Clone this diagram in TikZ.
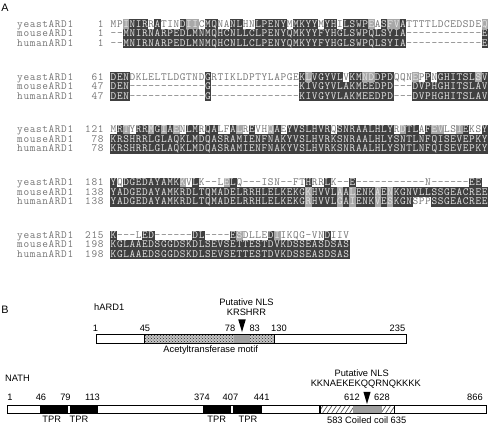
\documentclass[tikz,border=0pt]{standalone}
\usepackage{fontspec}
\newfontfamily\arial{Liberation Sans}
\usetikzlibrary{patterns}
\definecolor{darkc}{gray}{0.25}
\definecolor{lightc}{gray}{0.66}
\definecolor{plainc}{gray}{0.45}
\definecolor{intext}{gray}{0.9}
\newdimen\seqpitch \seqpitch=6.29pt
\newdimen\boxw \boxw=6.6pt
\newdimen\boxh \boxh=7.9pt
\newdimen\boxd \boxd=1.9pt
\newif\ifseqgr
\def\sqD#1{\hbox to\seqpitch{\rlap{\color{darkc}\vrule width\boxw height\boxh depth\boxd}\hss\textcolor{intext}{#1}\hss}}
\def\sqL#1{\hbox to\seqpitch{\rlap{\color{lightc}\vrule width\boxw height\boxh depth\boxd}\hss\textcolor{intext}{#1}\hss}}
\def\sqW#1{\hbox to\seqpitch{\hss\textcolor{plainc}{#1}\hss}}
\def\seqone#1{%
  \ifx#1+\global\seqgrtrue
  \else
    \ifseqgr \global\seqgrfalse\uppercase{\sqL{#1}}%
    \else
      \ifnum\lccode`#1=0 \sqW{#1}%
      \else
        \ifnum\lccode`#1=`#1 \uppercase{\sqW{#1}}%
        \else \sqD{#1}%
        \fi
      \fi
    \fi
  \fi}
\def\seqscan#1{\ifx#1\relax\else\seqone#1\expandafter\seqscan\fi}
\def\seqrow#1{\global\seqgrfalse\seqscan#1\relax}
\def\plainscan#1{\ifx#1\relax\else\sqW{#1}\expandafter\plainscan\fi}
\def\plainrow#1{\plainscan#1\relax}
\def\seqfont{\ttfamily\fontsize{11}{11}\selectfont}
\tikzset{
  seq/.style={anchor=base west, inner sep=0pt, font=\seqfont},
  nm/.style={anchor=base west, inner sep=0pt, font=\seqfont},
  num/.style={anchor=base east, inner sep=0pt, font=\seqfont},
  lbl/.style={anchor=base, inner sep=0pt, font=\arial\fontsize{9.3}{9.3}\selectfont},
  panel/.style={anchor=base west, inner sep=0pt, font=\arial\fontsize{10.8}{10.8}\selectfont},
  dom/.style={draw=black, line width=0.6pt},
  tip/.style={fill=black},
}
\begin{document}
\begin{tikzpicture}[x=1pt,y=-1pt]
\useasboundingbox (0,0) rectangle (488,424);
\node[panel] (pA) at (1.2,11) {A};
% ---------- block 1
\node[nm] (n1y) at (16.7,27.2) {\plainrow{yeastARD1}};
\node[nm] (n1m) at (16.7,36.7) {\plainrow{mouseARD1}};
\node[nm] (n1h) at (16.7,46.2) {\plainrow{humanARD1}};
\node[num] (c1y) at (104,27.2) {\plainrow{1}};
\node[num] (c1m) at (104,36.7) {\plainrow{1}};
\node[num] (c1h) at (104,46.2) {\plainrow{1}};
\node[seq] (s1y) at (110.2,27.2) {\seqrow{mp+INIRrAtinD+I+IcMQnaNLhnLPENYmMKYYmYHiLSWP+EaS+F+VAttttldcedsde+Q}};
\node[seq] (s1m) at (110.2,36.7) {\seqrow{--MNIRNARPEDLMNMQHCNLLCLPENYQMKYYFYHGLSWPQLSYIA------------E}};
\node[seq] (s1h) at (110.2,46.2) {\seqrow{--MNIRNARPEDLMNMQHCNLLCLPENYQMKYYFYHGLSWPQLSYIA------------E}};
% ---------- block 2
\node[nm] (n2y) at (16.7,80.0) {\plainrow{yeastARD1}};
\node[nm] (n2m) at (16.7,89.5) {\plainrow{mouseARD1}};
\node[nm] (n2h) at (16.7,99.0) {\plainrow{humanARD1}};
\node[num] (c2y) at (104,80.0) {\plainrow{61}};
\node[num] (c2m) at (104,89.5) {\plainrow{47}};
\node[num] (c2h) at (104,99.0) {\plainrow{47}};
\node[seq] (s2y) at (110.2,80.0) {\seqrow{DENdkleltldgtndGrtikldptylapgeK+LVGYVLvKM+N+DDPDqqn+EpPnGHITSL+SV}};
\node[seq] (s2m) at (110.2,89.5) {\seqrow{DEN------------G--------------KIVGYVLAKMEEDPD---DVPHGHITSLAV}};
\node[seq] (s2h) at (110.2,99.0) {\seqrow{DEN------------G--------------KIVGYVLAKMEEDPD---DVPHGHITSLAV}};
% ---------- block 3
\node[nm] (n3y) at (16.7,132.8) {\plainrow{yeastARD1}};
\node[nm] (n3m) at (16.7,142.3) {\plainrow{mouseARD1}};
\node[nm] (n3h) at (16.7,151.8) {\plainrow{humanARD1}};
\node[num] (c3y) at (104,132.8) {\plainrow{121}};
\node[num] (c3m) at (104,142.3) {\plainrow{78}};
\node[num] (c3h) at (104,151.8) {\plainrow{78}};
\node[seq] (s3y) at (110.2,132.8) {\seqrow{mR+TyRR+MG+IA+EnLMrQAlfA+LrEvh+QAeYVSLHVRqSNRAALHLYr+DTLaF+E+Vls+IEksY}};
\node[seq] (s3m) at (110.2,142.3) {\seqrow{KRSHRRLGLAQKLMDQASRAMIENFNAKYVSLHVRKSNRAALHLYSNTLNFQISEVEPKY}};
\node[seq] (s3h) at (110.2,151.8) {\seqrow{KRSHRRLGLAQKLMDQASRAMIENFNAKYVSLHVRKSNRAALHLYSNTLNFQISEVEPKY}};
% ---------- block 4
\node[nm] (n4y) at (16.7,185.6) {\plainrow{yeastARD1}};
\node[nm] (n4m) at (16.7,195.1) {\plainrow{mouseARD1}};
\node[nm] (n4h) at (16.7,204.6) {\plainrow{humanARD1}};
\node[num] (c4y) at (104,185.6) {\plainrow{181}};
\node[num] (c4m) at (104,195.1) {\plainrow{138}};
\node[num] (c4h) at (104,204.6) {\plainrow{138}};
\node[seq] (s4y) at (110.2,185.6) {\seqrow{YqDGEDAYAMK+KvLk--l+ELq---isn--ftHrrLk--E-----------n------EE}};
\node[seq] (s4m) at (110.2,195.1) {\seqrow{YADGEDAYAMKRDLTQMADELRRHLELKEKG+KHVVL+AA+LENK+AE+NKGNVLLSSGEACREE}};
\node[seq] (s4h) at (110.2,204.6) {\seqrow{YADGEDAYAMKRDLTQMADELRRHLELKEKG+RHVVL+GA+IENK+VE+SKGNsppSSGEACREE}};
% ---------- block 5
\node[nm] (n5y) at (16.7,238.4) {\plainrow{yeastARD1}};
\node[nm] (n5m) at (16.7,247.9) {\plainrow{mouseARD1}};
\node[nm] (n5h) at (16.7,257.4) {\plainrow{humanARD1}};
\node[num] (c5y) at (104,238.4) {\plainrow{215}};
\node[num] (c5m) at (104,247.9) {\plainrow{198}};
\node[num] (c5h) at (104,257.4) {\plainrow{198}};
\node[seq] (s5y) at (110.2,238.4) {\seqrow{K---lED------DL----E+SdlleD+Iikqg-vnDiiv}};
\node[seq] (s5m) at (110.2,247.9) {\seqrow{KGLAAEDSGGDSKDLSEVSETTESTDVKDSSEASDSAS}};
\node[seq] (s5h) at (110.2,257.4) {\seqrow{KGLAAEDSGGDSKDLSEVSETTESTDVKDSSEASDSAS}};
% ---------- panel B, hARD1
\node[panel] (pB) at (1.2,313) {B};
\node[lbl, anchor=base west] (hard) at (94,310.7) {hARD1};
\node[lbl] (nls1) at (246.5,305) {Putative NLS};
\node[lbl] (nlsq1) at (246.5,315.7) {KRSHRR};
\node[lbl] (h1) at (95.5,331.7) {1};
\node[lbl] (h45) at (145,331.7) {45};
\node[lbl] (h78) at (230,331.7) {78};
\node[lbl] (h83) at (254.7,331.7) {83};
\node[lbl] (h130) at (279,331.7) {130};
\node[lbl] (h235) at (397.5,331.7) {235};
\fill[gray!45] (144,334.3) rectangle (274.3,343.3);
\fill[pattern=crosshatch dots, pattern color=black!85] (144,334.3) rectangle (274.3,343.3);
\fill[gray!75] (234.3,334.3) rectangle (250,343.3);
\draw[dom] (96.7,334.3) rectangle (406.7,343.3);
\draw[dom] (144,334.3) -- (144,343.3) (274.3,334.3) -- (274.3,343.3);
\fill[tip] (238.2,319.3) -- (245.8,319.3) -- (242,332) -- cycle;
\node[lbl] (act) at (210.7,352.3) {Acetyltransferase motif};
% ---------- NATH
\node[lbl, anchor=base west] (nath) at (5,381.7) {NATH};
\node[lbl] (nls2) at (361.7,376) {Putative NLS};
\node[lbl] (nlsq2) at (365.8,386.2) {KKNAEKEKQQRNQKKKK};
\node[lbl] (a1) at (10,400) {1};
\node[lbl] (a46) at (41,400) {46};
\node[lbl] (a79) at (65.5,400) {79};
\node[lbl] (a113) at (92.5,400) {113};
\node[lbl] (a374) at (202,400) {374};
\node[lbl] (a407) at (230.5,400) {407};
\node[lbl] (a441) at (261.7,400) {441};
\node[lbl] (a612) at (352,400) {612};
\node[lbl] (a628) at (382,400) {628};
\node[lbl] (a866) at (475,400) {866};
\draw[dom] (7.3,405.7) rectangle (486,413.3);
\fill[black] (40,405.7) rectangle (68.3,413.3);
\fill[black] (70,405.7) rectangle (98.3,413.3);
\fill[black] (202.7,405.7) rectangle (230.7,413.3);
\fill[black] (232.7,405.7) rectangle (261.7,413.3);
\fill[white] (320,405.7) rectangle (394.3,413.3);
\begin{scope}
\clip (320,405.7) rectangle (394.3,413.3);
\foreach \hx in {318,322.5,...,400} {
  \draw[black!70, line width=0.6pt] (\hx,413.3) -- ++(5,-7.6);
}
\end{scope}
\fill[gray!75] (353,405.7) rectangle (381.7,413.3);
\draw[line width=1.2pt] (320,405.7) rectangle (394.3,413.3);
\fill[tip] (363.4,391.8) -- (370.6,391.8) -- (367,404) -- cycle;
\node[lbl] (t1) at (51.7,422.7) {TPR};
\node[lbl] (t2) at (79,422.7) {TPR};
\node[lbl] (t3) at (216.7,422.7) {TPR};
\node[lbl] (t4) at (248,422.7) {TPR};
\node[lbl] (cc) at (366.7,423) {583 Coiled coil 635};
\end{tikzpicture}
\end{document}
